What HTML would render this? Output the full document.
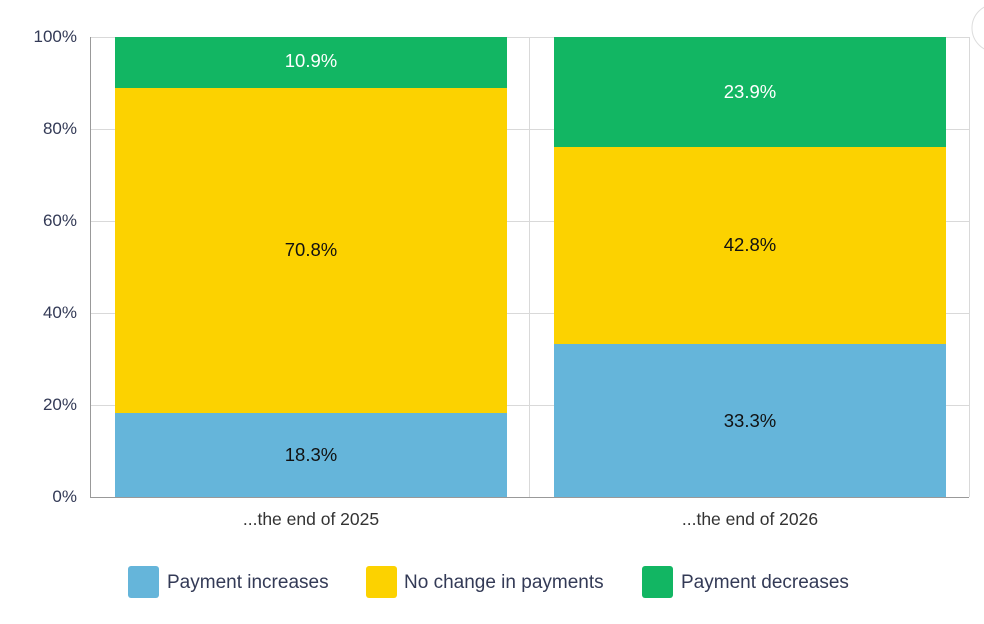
<!DOCTYPE html>
<html><head><style>body{margin:0;background:#fff;}svg{display:block;font-family:"Liberation Sans",Arial,sans-serif;}</style></head><body>
<svg width="984" height="624" viewBox="0 0 984 624">
<rect width="984" height="624" fill="#fff"/>
<g stroke="#d9d9d9" stroke-width="1">
<line x1="91" y1="37.5" x2="969" y2="37.5"/>
<line x1="91" y1="129.5" x2="969" y2="129.5"/>
<line x1="91" y1="221.5" x2="969" y2="221.5"/>
<line x1="91" y1="313.5" x2="969" y2="313.5"/>
<line x1="91" y1="405.5" x2="969" y2="405.5"/>
<line x1="529.5" y1="37" x2="529.5" y2="497"/>
<line x1="969.5" y1="37" x2="969.5" y2="497"/>
</g>
<rect x="115" y="413" width="392" height="84" fill="#65b5da"/>
<rect x="115" y="88" width="392" height="325" fill="#fcd200"/>
<rect x="115" y="37" width="392" height="51" fill="#12b663"/>
<rect x="554" y="344" width="392" height="153" fill="#65b5da"/>
<rect x="554" y="147" width="392" height="197" fill="#fcd200"/>
<rect x="554" y="37" width="392" height="110" fill="#12b663"/>
<g stroke="#999" stroke-width="1">
<line x1="90.5" y1="37" x2="90.5" y2="497"/>
<line x1="90" y1="497.5" x2="969" y2="497.5"/>
</g>
<g font-size="18.5" text-anchor="middle">
<text x="311" y="67" fill="#fff">10.9%</text>
<text x="311" y="256" fill="#111">70.8%</text>
<text x="311" y="461" fill="#111">18.3%</text>
<text x="750" y="98" fill="#fff">23.9%</text>
<text x="750" y="251" fill="#111">42.8%</text>
<text x="750" y="427" fill="#111">33.3%</text>
</g>
<g font-size="17" fill="#333a56" text-anchor="end">
<text x="77" y="42">100%</text>
<text x="77" y="134">80%</text>
<text x="77" y="226">60%</text>
<text x="77" y="318">40%</text>
<text x="77" y="410">20%</text>
<text x="77" y="502">0%</text>
</g>
<g font-size="17.5" fill="#333" text-anchor="middle">
<text x="311" y="525">...the end of 2025</text>
<text x="750" y="525">...the end of 2026</text>
</g>
<rect x="128" y="566" width="31" height="32" rx="3" fill="#65b5da"/>
<text x="167" y="588" font-size="19" fill="#333a56">Payment increases</text>
<rect x="366" y="566" width="31" height="32" rx="3" fill="#fcd200"/>
<text x="404" y="588" font-size="19" fill="#333a56">No change in payments</text>
<rect x="642" y="566" width="31" height="32" rx="3" fill="#12b663"/>
<text x="681" y="588" font-size="19" fill="#333a56">Payment decreases</text>
<circle cx="996" cy="28" r="24" fill="#fff" stroke="#ddd" stroke-width="1"/>
</svg>
</body></html>
